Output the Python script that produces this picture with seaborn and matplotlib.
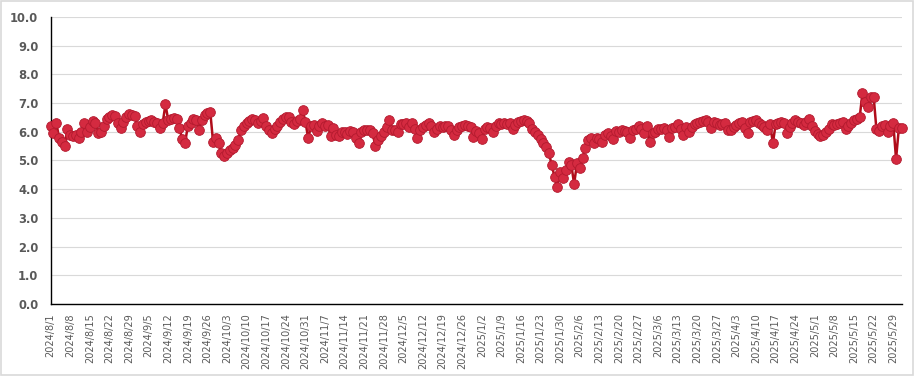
import numpy as np
import pandas as pd
import matplotlib
matplotlib.use('Agg')
import matplotlib.pyplot as plt
import seaborn as sns
from matplotlib.patches import Rectangle

# daily values, 2024/8/1 .. 2025/6/1
values = [
    6.2, 5.97, 6.3, 5.8, 5.65, 5.5, 6.1, 5.9, 5.85, 5.9,
    5.8, 6.0, 6.3, 6.0, 6.15, 6.37, 6.3, 5.97, 6.0, 6.2,
    6.45, 6.5, 6.6, 6.55, 6.3, 6.12, 6.35, 6.5, 6.62, 6.6,
    6.55, 6.2, 6.0, 6.27, 6.35, 6.38, 6.42, 6.35, 6.3, 6.12,
    6.3, 6.96, 6.4, 6.45, 6.48, 6.45, 6.12, 5.74, 5.62, 6.2,
    6.3, 6.45, 6.4, 6.06, 6.4, 6.6, 6.65, 6.7, 5.66, 5.77,
    5.62, 5.25, 5.17, 5.25, 5.38, 5.45, 5.55, 5.7, 6.06, 6.2,
    6.3, 6.38, 6.45, 6.4, 6.3, 6.38, 6.47, 6.2, 6.05, 5.97,
    6.1, 6.2, 6.35, 6.45, 6.5, 6.5, 6.33, 6.27, 6.38, 6.45,
    6.76, 6.35, 5.77, 6.2, 6.24, 6.03, 6.2, 6.3, 6.2, 6.24,
    5.85, 6.12, 5.9, 5.85, 6.0, 5.98, 5.92, 6.04, 6.0, 5.8,
    5.6, 6.0, 6.05, 6.06, 6.06, 5.95, 5.5, 5.71, 5.85, 6.0,
    6.18, 6.41, 6.06, 6.05, 6.0, 6.27, 6.28, 6.3, 6.18, 6.3,
    6.1, 5.8, 6.05, 6.18, 6.22, 6.3, 6.2, 6.0, 6.1, 6.2,
    6.18, 6.21, 6.2, 6.05, 5.89, 6.05, 6.18, 6.2, 6.24, 6.2,
    6.18, 5.83, 6.04, 5.95, 5.74, 6.1, 6.18, 6.12, 6.0, 6.2,
    6.3, 6.28, 6.3, 6.28, 6.3, 6.08, 6.25, 6.35, 6.38, 6.41,
    6.38, 6.3, 6.1, 6.0, 5.89, 5.74, 5.6, 5.46, 5.25, 4.84,
    4.43, 4.09, 4.61, 4.38, 4.67, 4.96, 4.84, 4.18, 4.9, 4.73,
    5.08, 5.43, 5.71, 5.77, 5.6, 5.77, 5.75, 5.66, 5.89, 5.97,
    5.85, 5.75, 6.04, 6.0, 6.06, 6.04, 6.0, 5.77, 6.06, 6.1,
    6.2, 6.1, 5.95, 6.2, 5.66, 5.95, 6.0, 6.08, 6.1, 6.12,
    6.06, 5.83, 6.12, 6.15, 6.27, 6.1, 5.89, 6.18, 6.0, 6.15,
    6.27, 6.3, 6.35, 6.38, 6.41, 6.35, 6.12, 6.35, 6.3, 6.24,
    6.28, 6.32, 6.06, 6.06, 6.15, 6.24, 6.3, 6.35, 6.12, 5.95,
    6.35, 6.38, 6.41, 6.32, 6.25, 6.18, 6.06, 6.27, 5.6, 6.27,
    6.3, 6.35, 6.32, 5.97, 6.18, 6.3, 6.41, 6.35, 6.3, 6.24,
    6.35, 6.44, 6.2, 6.04, 5.92, 5.85, 5.9, 6.0, 6.1, 6.27,
    6.25, 6.27, 6.3, 6.35, 6.08, 6.2, 6.32, 6.41, 6.45, 6.5,
    7.34, 7.05, 6.87, 7.22, 7.22, 6.08, 6.04, 6.2, 6.24, 6.0,
    6.2, 6.32, 5.05, 6.12, 6.12,
]
dates = pd.date_range('2024-08-01', periods=len(values), freq='D')
labels = [f'{d.year}/{d.month}/{d.day}' for d in dates]

df = pd.DataFrame({'pos': np.arange(len(values)), 'value': values})

sns.set_style('white')
plt.rcParams['font.family'] = ['DejaVu Sans']

fig = plt.figure(figsize=(9.15, 3.76), dpi=100)
ax = fig.add_axes([0.0554, 0.1915, 0.93, 0.7633])

sns.lineplot(data=df, x='pos', y='value', ax=ax, color='#b00c1a', linewidth=1.8,
             marker='o', markersize=7, markerfacecolor='#d42a40',
             markeredgecolor='#b31a2e', markeredgewidth=0.6, clip_on=False, zorder=3)

ax.set_xlim(0, len(values) - 1)
ax.set_ylim(0, 10)
ax.set_yticks(np.arange(0, 11, 1))
ax.set_yticklabels([f'{v:.1f}' for v in range(11)], fontsize=8.3, fontweight='bold', color='#595959')
tick_pos = list(range(0, len(values), 7))
ax.set_xticks(tick_pos)
ax.set_xticklabels([labels[i] for i in tick_pos], rotation=90, fontsize=7, color='#595959')
ax.tick_params(axis='x', direction='inout', length=7, width=0.8, color='black', pad=3)
ax.tick_params(axis='y', length=0, pad=9)

ax.grid(axis='y', color='#d9d9d9', linewidth=0.8)
ax.set_axisbelow(True)
for side in ['top', 'right']:
    ax.spines[side].set_visible(False)
for side in ['left', 'bottom']:
    ax.spines[side].set_color('black')
    ax.spines[side].set_linewidth(1.0)
ax.set_xlabel('')
ax.set_ylabel('')

fig.patches.append(Rectangle((0.001, 0.003), 0.997, 0.994, transform=fig.transFigure,
                             fill=False, edgecolor='#d9d9d9', linewidth=1.2))

plt.savefig('out.png', dpi=100)
